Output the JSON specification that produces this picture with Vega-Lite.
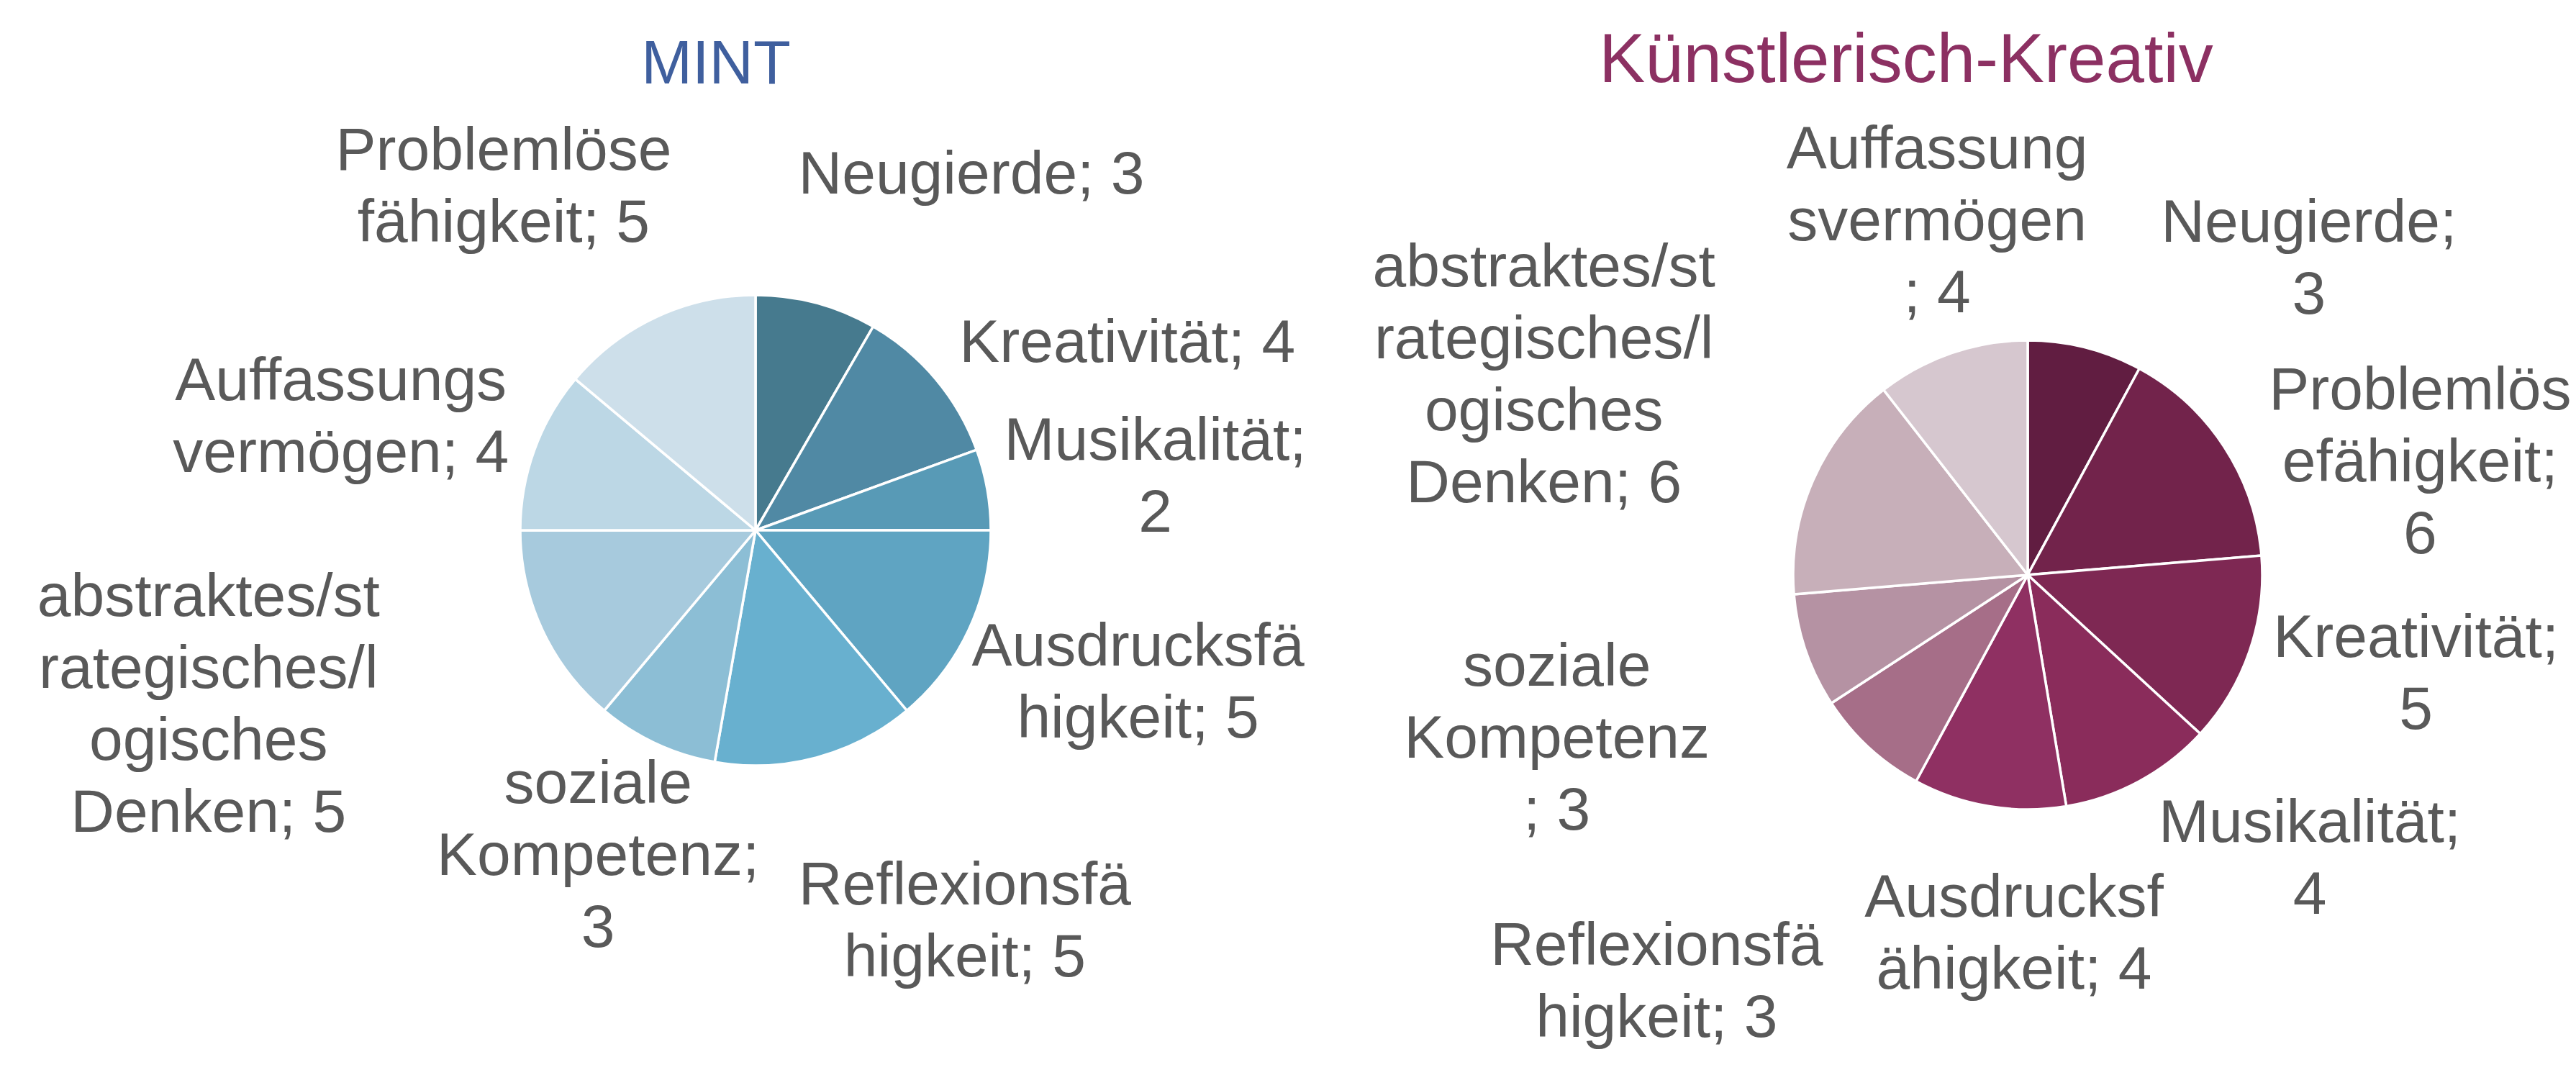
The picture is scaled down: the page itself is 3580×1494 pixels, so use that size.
{
  "$schema": "https://vega.github.io/schema/vega-lite/v6.json",
  "background": "white",
  "padding": {"left": 0, "top": 37, "right": 0, "bottom": 0},
  "bounds": "flush",
  "spacing": 0,
  "config": {
    "view": {"stroke": null},
    "font": "Liberation Sans",
    "title": {"font": "Liberation Sans", "fontWeight": "normal", "anchor": "middle", "frame": "group", "baseline": "alphabetic", "offset": 17},
    "text": {"font": "Liberation Sans", "fontSize": 84, "color": "#595959", "lineBreak": "\n", "lineHeight": 100, "align": "center", "baseline": "middle"}
  },
  "resolve": {"scale": {"color": "independent", "theta": "independent"}},
  "datasets": {
    "mint": [
      {"skill": "Neugierde", "value": 3, "label": "Neugierde; 3"},
      {"skill": "Kreativität", "value": 4, "label": "Kreativität; 4"},
      {"skill": "Musikalität", "value": 2, "label": "Musikalität;\n2"},
      {"skill": "Ausdrucksfähigkeit", "value": 5, "label": "Ausdrucksfä\nhigkeit; 5"},
      {"skill": "Reflexionsfähigkeit", "value": 5, "label": "Reflexionsfä\nhigkeit; 5"},
      {"skill": "soziale Kompetenz", "value": 3, "label": "soziale\nKompetenz;\n3"},
      {"skill": "abstraktes/strategisches/logisches Denken", "value": 5, "label": "abstraktes/st\nrategisches/l\nogisches\nDenken; 5"},
      {"skill": "Auffassungsvermögen", "value": 4, "label": "Auffassungs\nvermögen; 4"},
      {"skill": "Problemlösefähigkeit", "value": 5, "label": "Problemlöse\nfähigkeit; 5"}
    ],
    "kunst": [
      {"skill": "Neugierde", "value": 3, "label": "Neugierde;\n3"},
      {"skill": "Problemlösefähigkeit", "value": 6, "label": "Problemlös\nefähigkeit;\n6"},
      {"skill": "Kreativität", "value": 5, "label": "Kreativität;\n5"},
      {"skill": "Musikalität", "value": 4, "label": "Musikalität;\n4"},
      {"skill": "Ausdrucksfähigkeit", "value": 4, "label": "Ausdrucksf\nähigkeit; 4"},
      {"skill": "Reflexionsfähigkeit", "value": 3, "label": "Reflexionsfä\nhigkeit; 3"},
      {"skill": "soziale Kompetenz", "value": 3, "label": "soziale\nKompetenz\n; 3"},
      {"skill": "abstraktes/strategisches/logisches Denken", "value": 6, "label": "abstraktes/st\nrategisches/l\nogisches\nDenken; 6"},
      {"skill": "Auffassungsvermögen", "value": 4, "label": "Auffassung\nsvermögen\n; 4"}
    ]
  },
  "hconcat": [
    {
      "width": 2100,
      "height": 1172,
      "title": {"text": "MINT", "fontSize": 85, "color": "#3F5F9E", "dx": -55},
      "data": {"name": "mint"},
      "transform": [
        {"window": [{"op": "row_number", "as": "n"}, {"op": "sum", "field": "value", "as": "cum"}], "frame": [null, 0]}
      ],
      "layer": [
        {
          "mark": {"type": "arc", "outerRadius": 327, "stroke": "#ffffff", "strokeWidth": 3.5},
          "encoding": {
            "theta": {"field": "value", "type": "quantitative", "stack": true},
            "order": {"field": "n", "type": "quantitative"},
            "color": {
              "field": "skill", "type": "nominal", "legend": null,
              "scale": {
                "domain": ["Neugierde", "Kreativität", "Musikalität", "Ausdrucksfähigkeit", "Reflexionsfähigkeit", "soziale Kompetenz", "abstraktes/strategisches/logisches Denken", "Auffassungsvermögen", "Problemlösefähigkeit"],
                "range": ["#467a8e", "#5089a4", "#589ab6", "#5fa4c2", "#68b0cf", "#8cbed5", "#a7cadd", "#bcd7e5", "#cddfea"]
              }
            }
          }
        },
        {"transform": [{"filter": {"field": "skill", "equal": "Neugierde"}}], "mark": {"type": "text", "radius": 577, "thetaOffset": 0.0232}, "encoding": {"theta": {"field": "cum", "type": "quantitative"}, "text": {"field": "label", "type": "nominal"}}},
        {"transform": [{"filter": {"field": "skill", "equal": "Kreativität"}}], "mark": {"type": "text", "radius": 578, "thetaOffset": -0.1154}, "encoding": {"theta": {"field": "cum", "type": "quantitative"}, "text": {"field": "label", "type": "nominal"}}},
        {"transform": [{"filter": {"field": "skill", "equal": "Musikalität"}}], "mark": {"type": "text", "radius": 569, "thetaOffset": -0.2176}, "encoding": {"theta": {"field": "cum", "type": "quantitative"}, "text": {"field": "label", "type": "nominal"}}},
        {"transform": [{"filter": {"field": "skill", "equal": "Ausdrucksfähigkeit"}}], "mark": {"type": "text", "radius": 556, "thetaOffset": -0.5747}, "encoding": {"theta": {"field": "cum", "type": "quantitative"}, "text": {"field": "label", "type": "nominal"}}},
        {"transform": [{"filter": {"field": "skill", "equal": "Reflexionsfähigkeit"}}], "mark": {"type": "text", "radius": 574, "thetaOffset": -0.706}, "encoding": {"theta": {"field": "cum", "type": "quantitative"}, "text": {"field": "label", "type": "nominal"}}},
        {"transform": [{"filter": {"field": "skill", "equal": "soziale Kompetenz"}}], "mark": {"type": "text", "radius": 416, "thetaOffset": -0.1442}, "encoding": {"theta": {"field": "cum", "type": "quantitative"}, "text": {"field": "label", "type": "nominal"}}},
        {"transform": [{"filter": {"field": "skill", "equal": "abstraktes/strategisches/logisches Denken"}}], "mark": {"type": "text", "radius": 766, "thetaOffset": -0.123}, "encoding": {"theta": {"field": "cum", "type": "quantitative"}, "text": {"field": "label", "type": "nominal"}}},
        {"transform": [{"filter": {"field": "skill", "equal": "Auffassungsvermögen"}}], "mark": {"type": "text", "radius": 612, "thetaOffset": -0.3547}, "encoding": {"theta": {"field": "cum", "type": "quantitative"}, "text": {"field": "label", "type": "nominal"}}},
        {"transform": [{"filter": {"field": "skill", "equal": "Problemlösefähigkeit"}}], "mark": {"type": "text", "radius": 632, "thetaOffset": -0.5871}, "encoding": {"theta": {"field": "cum", "type": "quantitative"}, "text": {"field": "label", "type": "nominal"}}}
      ]
    },
    {
      "width": 1436,
      "height": 1296,
      "title": {"text": "Künstlerisch-Kreativ", "fontSize": 96, "color": "#8C3062", "dx": -169},
      "data": {"name": "kunst"},
      "transform": [
        {"window": [{"op": "row_number", "as": "n"}, {"op": "sum", "field": "value", "as": "cum"}], "frame": [null, 0]}
      ],
      "layer": [
        {
          "mark": {"type": "arc", "outerRadius": 326, "stroke": "#ffffff", "strokeWidth": 3.5},
          "encoding": {
            "theta": {"field": "value", "type": "quantitative", "stack": true},
            "order": {"field": "n", "type": "quantitative"},
            "color": {
              "field": "skill", "type": "nominal", "legend": null,
              "scale": {
                "domain": ["Neugierde", "Problemlösefähigkeit", "Kreativität", "Musikalität", "Ausdrucksfähigkeit", "Reflexionsfähigkeit", "soziale Kompetenz", "abstraktes/strategisches/logisches Denken", "Auffassungsvermögen"],
                "range": ["#611d41", "#72234b", "#7e2853", "#8a2c5b", "#8f3062", "#a66e88", "#b592a3", "#c7afb9", "#d6c7cf"]
              }
            }
          }
        },
        {"transform": [{"filter": {"field": "skill", "equal": "Neugierde"}}], "mark": {"type": "text", "radius": 625, "thetaOffset": 0.1794}, "encoding": {"theta": {"field": "cum", "type": "quantitative"}, "text": {"field": "label", "type": "nominal"}}},
        {"transform": [{"filter": {"field": "skill", "equal": "Problemlösefähigkeit"}}], "mark": {"type": "text", "radius": 602, "thetaOffset": -0.3548}, "encoding": {"theta": {"field": "cum", "type": "quantitative"}, "text": {"field": "label", "type": "nominal"}}},
        {"transform": [{"filter": {"field": "skill", "equal": "Kreativität"}}], "mark": {"type": "text", "radius": 547, "thetaOffset": -0.5807}, "encoding": {"theta": {"field": "cum", "type": "quantitative"}, "text": {"field": "label", "type": "nominal"}}},
        {"transform": [{"filter": {"field": "skill", "equal": "Musikalität"}}], "mark": {"type": "text", "radius": 523, "thetaOffset": -0.6824}, "encoding": {"theta": {"field": "cum", "type": "quantitative"}, "text": {"field": "label", "type": "nominal"}}},
        {"transform": [{"filter": {"field": "skill", "equal": "Ausdrucksfähigkeit"}}], "mark": {"type": "text", "radius": 450, "thetaOffset": -0.4538}, "encoding": {"theta": {"field": "cum", "type": "quantitative"}, "text": {"field": "label", "type": "nominal"}}},
        {"transform": [{"filter": {"field": "skill", "equal": "Reflexionsfähigkeit"}}], "mark": {"type": "text", "radius": 730, "thetaOffset": -0.2077}, "encoding": {"theta": {"field": "cum", "type": "quantitative"}, "text": {"field": "label", "type": "nominal"}}},
        {"transform": [{"filter": {"field": "skill", "equal": "soziale Kompetenz"}}], "mark": {"type": "text", "radius": 667, "thetaOffset": -0.1121}, "encoding": {"theta": {"field": "cum", "type": "quantitative"}, "text": {"field": "label", "type": "nominal"}}},
        {"transform": [{"filter": {"field": "skill", "equal": "abstraktes/strategisches/logisches Denken"}}], "mark": {"type": "text", "radius": 796, "thetaOffset": -0.3445}, "encoding": {"theta": {"field": "cum", "type": "quantitative"}, "text": {"field": "label", "type": "nominal"}}},
        {"transform": [{"filter": {"field": "skill", "equal": "Auffassungsvermögen"}}], "mark": {"type": "text", "radius": 603, "thetaOffset": -0.2103}, "encoding": {"theta": {"field": "cum", "type": "quantitative"}, "text": {"field": "label", "type": "nominal"}}}
      ]
    }
  ]
}
